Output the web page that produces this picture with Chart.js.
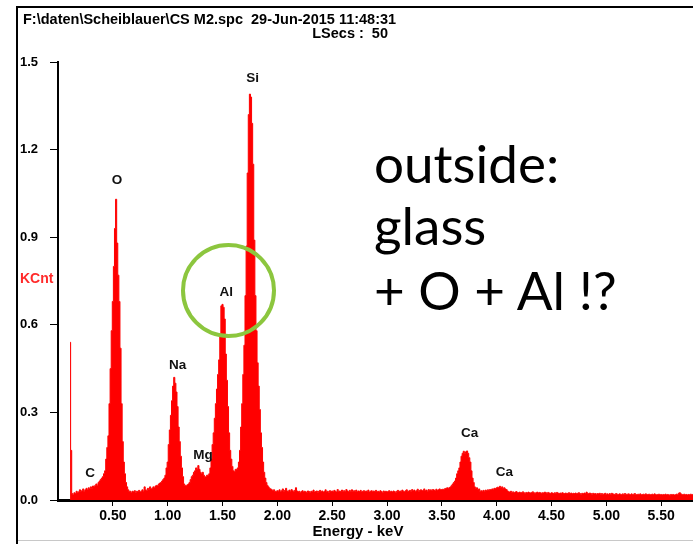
<!DOCTYPE html>
<html>
<head>
<meta charset="utf-8">
<script src="https://cdn.jsdelivr.net/npm/chart.js@4.4.1/dist/chart.umd.min.js"></script>
<style>
  html, body { margin: 0; padding: 0; background: #fff; }
  #wrap { position: relative; width: 693px; height: 544px; overflow: hidden; }
  canvas { position: absolute; left: 0; top: 0; }
  .frame { position: absolute; left: 16px; top: 6px; width: 700px; height: 560px;
           border-left: 2px solid #000; border-top: 2px solid #000; }
  .foot { position: absolute; left: 18px; top: 540px; width: 680px; height: 1px; background: #c8c8c8; }
  .hdr { position: absolute; font: bold 14.5px "Liberation Sans", Arial, sans-serif; line-height: 1; white-space: pre; color: #000; }
  .kcnt { position: absolute; left: 20px; top: 271px; font: bold 14px "Liberation Sans", Arial, sans-serif; line-height: 1; color: #ff2a2a; }
  .xtitle { position: absolute; left: 258px; width: 200px; top: 523px; text-align: center;
            font: bold 15px "Liberation Sans", Arial, sans-serif; line-height: 1; color: #000; }
  .note { position: absolute; left: 374px; font: 53px Lato, sans-serif; line-height: 1; white-space: pre; color: #000; }
  .ring { position: absolute; left: 181px; top: 243px; width: 95px; height: 95px; box-sizing: border-box;
          border: 4.5px solid #8cc63e; border-radius: 50%; }
</style>
</head>
<body>
<div id="wrap">
  <canvas id="chart" width="693" height="544"></canvas>
  <div class="frame"></div>
  <div class="foot"></div>
  <div class="hdr" style="left:23px; top:12px;">F:\daten\Scheiblauer\CS M2.spc  29-Jun-2015 11:48:31</div>
  <div class="hdr" style="left:0; width:388px; top:25.5px; text-align:right;">LSecs :  50</div>
  <div class="kcnt">KCnt</div>
  <div class="xtitle">Energy - keV</div>
  <div class="note" style="top:136px;">outside:</div>
  <div class="note" style="top:198px;">glass</div>
  <div class="note" style="top:263px;">+ O + Al !?</div>
  <div class="ring"></div>
</div>
<script>
// spectrum channels: 0.01 keV wide, first channel at 0.11 keV
const channelStart = 0.11;
const channelWidth = 0.01;
const counts = [
  0.54, 0.17, 0.022, 0.018, 0.025, 0.022, 0.030, 0.025, 0.028, 0.035,
  0.030, 0.032, 0.038, 0.030, 0.035, 0.040, 0.035, 0.042, 0.038, 0.045,
  0.040, 0.048, 0.045, 0.050, 0.055, 0.050, 0.060, 0.065, 0.070, 0.075,
  0.080, 0.090, 0.100, 0.140, 0.180, 0.220, 0.330, 0.450, 0.580, 0.680,
  0.800, 0.930, 1.030, 0.880, 0.770, 0.680, 0.520, 0.330, 0.200, 0.130,
  0.090, 0.060, 0.045, 0.035, 0.030, 0.030, 0.025, 0.030, 0.028, 0.032,
  0.025, 0.030, 0.028, 0.033, 0.027, 0.030, 0.035, 0.030, 0.045, 0.035,
  0.032, 0.040, 0.035, 0.045, 0.038, 0.040, 0.045, 0.042, 0.048, 0.050,
  0.050, 0.055, 0.058, 0.060, 0.065, 0.070, 0.075, 0.085, 0.110, 0.130,
  0.190, 0.240, 0.290, 0.340, 0.390, 0.420, 0.400, 0.370, 0.320, 0.250,
  0.200, 0.150, 0.110, 0.080, 0.055, 0.050, 0.048, 0.052, 0.055, 0.060,
  0.070, 0.080, 0.085, 0.095, 0.100, 0.110, 0.105, 0.118, 0.105, 0.095,
  0.090, 0.095, 0.085, 0.075, 0.080, 0.085, 0.085, 0.090, 0.110, 0.140,
  0.190, 0.230, 0.280, 0.330, 0.380, 0.430, 0.480, 0.560, 0.665, 0.670,
  0.660, 0.620, 0.500, 0.410, 0.320, 0.230, 0.170, 0.140, 0.115, 0.100,
  0.098, 0.105, 0.105, 0.110, 0.130, 0.170, 0.250, 0.330, 0.430, 0.530,
  0.700, 0.870, 1.120, 1.320, 1.390, 1.380, 1.290, 1.150, 0.890, 0.700,
  0.580, 0.470, 0.390, 0.310, 0.230, 0.180, 0.130, 0.095, 0.075, 0.060,
  0.050, 0.045, 0.040, 0.038, 0.035, 0.032, 0.035, 0.030, 0.028, 0.032,
  0.030, 0.035, 0.028, 0.032, 0.038, 0.030, 0.033, 0.040, 0.031, 0.029,
  0.034, 0.030, 0.036, 0.032, 0.028, 0.033, 0.042, 0.031, 0.027, 0.030,
  0.026, 0.029, 0.032, 0.027, 0.030, 0.028, 0.025, 0.031, 0.029, 0.026,
  0.030, 0.028, 0.034, 0.027, 0.029, 0.031, 0.026, 0.030, 0.033, 0.028,
  0.031, 0.027, 0.029, 0.035, 0.028, 0.030, 0.026, 0.032, 0.029, 0.031,
  0.028, 0.033, 0.030, 0.027, 0.036, 0.029, 0.031, 0.028, 0.034, 0.030,
  0.032, 0.029, 0.036, 0.031, 0.028, 0.033, 0.030, 0.035, 0.029, 0.032,
  0.030, 0.034, 0.028, 0.031, 0.029, 0.033, 0.027, 0.030, 0.032, 0.028,
  0.031, 0.029, 0.034, 0.027, 0.030, 0.032, 0.028, 0.031, 0.029, 0.033,
  0.028, 0.030, 0.027, 0.032, 0.029, 0.026, 0.031, 0.028, 0.030, 0.027,
  0.029, 0.032, 0.028, 0.030, 0.027, 0.031, 0.029, 0.026, 0.030, 0.033,
  0.028, 0.031, 0.029, 0.034, 0.030, 0.028, 0.032, 0.035, 0.029, 0.031,
  0.033, 0.030, 0.036, 0.031, 0.034, 0.029, 0.032, 0.037, 0.030, 0.033,
  0.035, 0.031, 0.033, 0.038, 0.032, 0.034, 0.030, 0.036, 0.033, 0.035,
  0.032, 0.036, 0.034, 0.031, 0.037, 0.033, 0.035, 0.038, 0.034, 0.036,
  0.037, 0.035, 0.039, 0.040, 0.042, 0.040, 0.043, 0.045, 0.050, 0.055,
  0.060, 0.065, 0.075, 0.090, 0.100, 0.110, 0.130, 0.150, 0.160, 0.167,
  0.160, 0.165, 0.168, 0.160, 0.145, 0.130, 0.100, 0.075, 0.060, 0.045,
  0.040, 0.042, 0.035, 0.038, 0.030, 0.032, 0.030, 0.033, 0.030, 0.034,
  0.032, 0.035, 0.033, 0.036, 0.034, 0.038, 0.037, 0.040, 0.039, 0.042,
  0.044, 0.041, 0.047, 0.043, 0.045, 0.040, 0.042, 0.038, 0.036, 0.031,
  0.028, 0.027, 0.030, 0.026, 0.028, 0.025, 0.027, 0.029, 0.026, 0.025,
  0.027, 0.024, 0.026, 0.028, 0.025, 0.023, 0.026, 0.024, 0.027, 0.025,
  0.024, 0.026, 0.028, 0.025, 0.023, 0.025, 0.027, 0.024, 0.026, 0.025,
  0.023, 0.025, 0.024, 0.027, 0.025, 0.023, 0.026, 0.024, 0.022, 0.025,
  0.024, 0.022, 0.025, 0.023, 0.026, 0.024, 0.022, 0.024, 0.023, 0.025,
  0.023, 0.022, 0.024, 0.021, 0.023, 0.025, 0.022, 0.024, 0.021, 0.023,
  0.022, 0.024, 0.021, 0.023, 0.025, 0.022, 0.020, 0.023, 0.021, 0.024,
  0.022, 0.027, 0.023, 0.021, 0.024, 0.022, 0.020, 0.023, 0.021, 0.022,
  0.020, 0.022, 0.021, 0.023, 0.020, 0.022, 0.019, 0.021, 0.023, 0.020,
  0.021, 0.019, 0.022, 0.020, 0.023, 0.021, 0.019, 0.020, 0.022, 0.020,
  0.019, 0.021, 0.020, 0.018, 0.021, 0.019, 0.022, 0.020, 0.018, 0.021,
  0.020, 0.018, 0.021, 0.019, 0.020, 0.022, 0.019, 0.018, 0.020, 0.019,
  0.021, 0.018, 0.019, 0.020, 0.018, 0.021, 0.019, 0.017, 0.020, 0.018,
  0.019, 0.020, 0.018, 0.021, 0.019, 0.017, 0.019, 0.020, 0.018, 0.019,
  0.017, 0.019, 0.018, 0.020, 0.017, 0.019, 0.018, 0.016, 0.019, 0.018,
  0.019, 0.017, 0.018, 0.020, 0.018, 0.023, 0.025, 0.021, 0.019, 0.018,
  0.020, 0.018, 0.019, 0.017, 0.019, 0.018, 0.020, 0.018, 0.019, 0.017
];

const xTickValues = [0.5, 1.0, 1.5, 2.0, 2.5, 3.0, 3.5, 4.0, 4.5, 5.0, 5.5];
const yTickValues = [0.0, 0.3, 0.6, 0.9, 1.2, 1.5];

// element markers (label centre in keV / KCnt)
const peakNames = ['C', 'O', 'Na', 'Mg', 'Al', 'Si', 'Ca', 'Ca'];
const peakLabelKeV = [0.292, 0.538, 1.090, 1.323, 1.533, 1.775, 3.754, 4.069];
const peakLabelKCnt = [0.092, 1.096, 0.462, 0.154, 0.711, 1.445, 0.229, 0.096];

const points = counts.map((c, i) => ({ x: channelStart + i * channelWidth, y: c }));

const peakLabels = {
    id: 'peakLabels',
    afterDatasetsDraw(chart) {
        const ctx = chart.ctx;
        const x = chart.scales.x, y = chart.scales.y;
        ctx.save();
        ctx.font = 'bold 13.5px "Liberation Sans", Arial, sans-serif';
        ctx.fillStyle = '#111';
        ctx.textAlign = 'center';
        ctx.textBaseline = 'middle';
        peakNames.forEach((name, i) => {
            ctx.fillText(name, x.getPixelForValue(peakLabelKeV[i]), y.getPixelForValue(peakLabelKCnt[i]));
        });
        ctx.restore();
    }
};

const tickFont = { family: '"Liberation Sans", Arial, sans-serif', weight: 'bold' };

new Chart(document.getElementById('chart'), {
    type: 'line',
    data: {
        datasets: [{
            data: points,
            stepped: 'middle',
            fill: 'origin',
            backgroundColor: '#ff0000',
            borderColor: '#ff0000',
            borderWidth: 1,
            pointRadius: 0
        }]
    },
    options: {
        responsive: false,
        animation: false,
        devicePixelRatio: 1,
        layout: { padding: { left: 20, top: 62, right: 0, bottom: 0 } },
        plugins: { legend: { display: false }, tooltip: { enabled: false } },
        scales: {
            x: {
                type: 'linear',
                min: 0,
                max: 5.79,
                afterBuildTicks: s => { s.ticks = xTickValues.map(v => ({ value: v })); },
                afterFit: s => { s.height = 44; },
                ticks: {
                    autoSkip: false,
                    maxRotation: 0,
                    padding: 2,
                    color: '#000',
                    font: { ...tickFont, size: 14 },
                    callback: v => v.toFixed(2)
                },
                grid: { drawOnChartArea: false, tickLength: 6, color: '#000', lineWidth: 1 },
                border: { color: '#000', width: 3 }
            },
            y: {
                min: 0,
                max: 1.5,
                afterBuildTicks: s => { s.ticks = yTickValues.map(v => ({ value: v })); },
                afterFit: s => { s.width = 38; },
                ticks: {
                    crossAlign: 'far',
                    color: '#000',
                    font: { ...tickFont, size: 13 },
                    callback: v => v.toFixed(1)
                },
                grid: { drawOnChartArea: false, tickLength: 8, color: '#000', lineWidth: 1 },
                border: { color: '#000', width: 2 }
            }
        }
    },
    plugins: [peakLabels]
});
</script>
</body>
</html>
